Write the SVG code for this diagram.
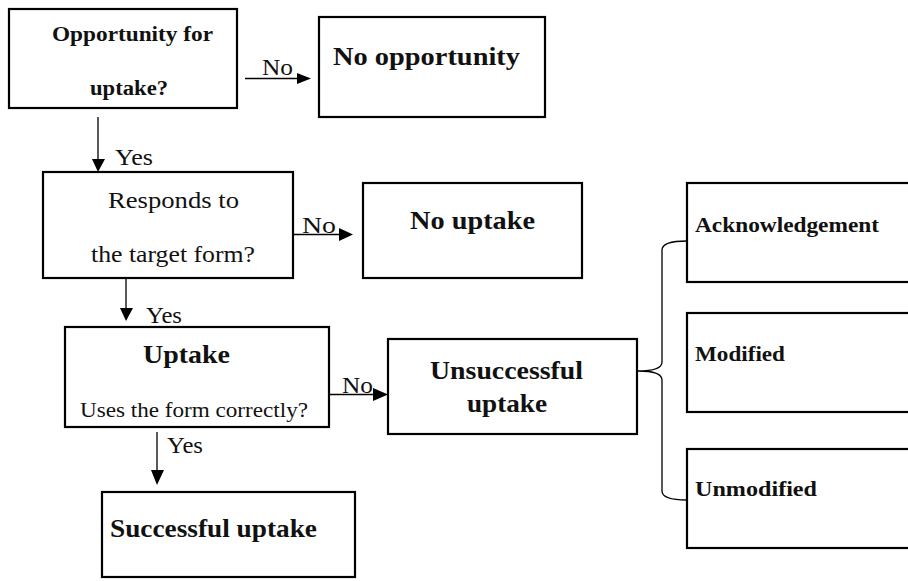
<svg xmlns="http://www.w3.org/2000/svg" width="908" height="581" viewBox="0 0 908 581" font-family="Liberation Serif, DejaVu Serif, serif">
<style>
.box{fill:#fff;stroke:#000;stroke-width:2.2}
.b{font-weight:bold}
.ln{stroke:#000;stroke-width:1.3;fill:none}
.hd{fill:#000}
</style>
<rect width="908" height="581" fill="#fff"/>
<g id="connectors" fill="#111">
<line class="ln" x1="245" y1="78.5" x2="298" y2="78.5"/>
<polygon class="hd" points="297,73 311,78.5 297,84"/>
<line class="ln" x1="98" y1="117" x2="98" y2="160"/>
<polygon class="hd" points="92,159 98,172 105,159"/>
<line class="ln" x1="293" y1="234.5" x2="340" y2="234.5"/>
<polygon class="hd" points="339,228 353,234.5 339,241"/>
<line class="ln" x1="126" y1="268" x2="126" y2="309"/>
<polygon class="hd" points="120,308 126,321 133,308"/>
<line class="ln" x1="329" y1="394.5" x2="374" y2="394.5"/>
<polygon class="hd" points="373,388 388,394.5 373,401"/>
<line class="ln" x1="157" y1="432" x2="157" y2="471"/>
<polygon class="hd" points="151,470 157,485 164,470"/>
<path class="ln" d="M687 241 Q662 241 662 250 L662 362 Q662 371 638 371 Q662 371 662 380 L662 491 Q662 500 687 500"/>
<text x="262" y="75" font-size="23" textLength="31" lengthAdjust="spacingAndGlyphs">No</text>
<text x="115" y="165" font-size="23" textLength="38" lengthAdjust="spacingAndGlyphs">Yes</text>
<text x="302" y="233" font-size="23" textLength="34" lengthAdjust="spacingAndGlyphs">No</text>
<text x="146" y="323" font-size="23" textLength="36" lengthAdjust="spacingAndGlyphs">Yes</text>
<text x="342" y="393" font-size="23" textLength="31" lengthAdjust="spacingAndGlyphs">No</text>
<text x="167" y="453" font-size="23" textLength="36" lengthAdjust="spacingAndGlyphs">Yes</text>
</g>
<g id="opportunity" fill="#111">
<rect class="box" x="9" y="9" width="228" height="99"/>
<text class="b" x="52" y="41" font-size="20" textLength="161" lengthAdjust="spacingAndGlyphs">Opportunity for</text>
<text class="b" x="90" y="95" font-size="20" textLength="78" lengthAdjust="spacingAndGlyphs">uptake?</text>
</g>
<g id="no-opportunity" fill="#111">
<rect class="box" x="319" y="17" width="226" height="100"/>
<text class="b" x="333" y="65" font-size="25" textLength="187" lengthAdjust="spacingAndGlyphs">No opportunity</text>
</g>
<g id="responds" fill="#111">
<rect class="box" x="43" y="172" width="250" height="106"/>
<text x="108" y="208" font-size="24" textLength="131" lengthAdjust="spacingAndGlyphs">Responds to</text>
<text x="91" y="262" font-size="24" textLength="164" lengthAdjust="spacingAndGlyphs">the target form?</text>
</g>
<g id="no-uptake" fill="#111">
<rect class="box" x="363" y="183" width="219" height="95"/>
<text class="b" x="410" y="229" font-size="25" textLength="125" lengthAdjust="spacingAndGlyphs">No uptake</text>
</g>
<g id="uptake" fill="#111">
<rect class="box" x="65" y="327" width="264" height="100"/>
<text class="b" x="143" y="363" font-size="25" textLength="87" lengthAdjust="spacingAndGlyphs">Uptake</text>
<text x="80" y="417" font-size="21" textLength="228" lengthAdjust="spacingAndGlyphs">Uses the form correctly?</text>
</g>
<g id="unsuccessful" fill="#111">
<rect class="box" x="388" y="339" width="249" height="95"/>
<text class="b" x="430" y="379" font-size="26" textLength="153" lengthAdjust="spacingAndGlyphs">Unsuccessful</text>
<text class="b" x="467" y="412" font-size="26" textLength="80" lengthAdjust="spacingAndGlyphs">uptake</text>
</g>
<g id="successful" fill="#111">
<rect class="box" x="102" y="492" width="253" height="85"/>
<text class="b" x="110" y="537" font-size="25" textLength="207" lengthAdjust="spacingAndGlyphs">Successful uptake</text>
</g>
<g id="acknowledgement" fill="#111">
<rect class="box" x="687" y="183" width="225" height="99"/>
<text class="b" x="695" y="232" font-size="21" textLength="184" lengthAdjust="spacingAndGlyphs">Acknowledgement</text>
</g>
<g id="modified" fill="#111">
<rect class="box" x="687" y="313" width="225" height="99"/>
<text class="b" x="695" y="361" font-size="21" textLength="90" lengthAdjust="spacingAndGlyphs">Modified</text>
</g>
<g id="unmodified" fill="#111">
<rect class="box" x="687" y="449" width="225" height="99"/>
<text class="b" x="695" y="496" font-size="21" textLength="122" lengthAdjust="spacingAndGlyphs">Unmodified</text>
</g>
</svg>
